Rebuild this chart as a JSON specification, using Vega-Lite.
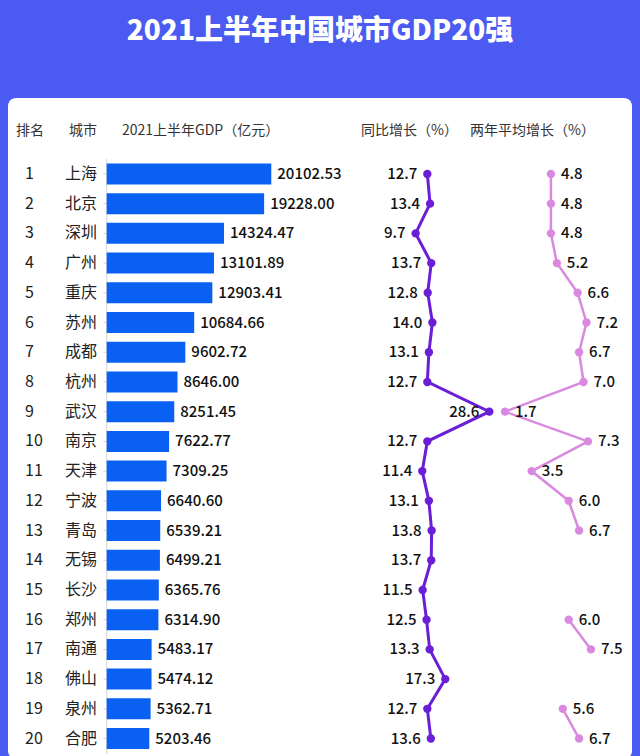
{
  "$schema": "https://vega.github.io/schema/vega-lite/v6.json",
  "width": 624,
  "height": 661,
  "autosize": "none",
  "padding": {"left": 8, "top": 98, "right": 8, "bottom": 0},
  "background": "#4b5af0",
  "view": {"fill": "white", "stroke": null, "cornerRadius": 8},
  "config": {"font": "Noto Sans CJK SC", "text": {"font": "Noto Sans CJK SC"}},
  "title": {
    "text": "2021上半年中国城市GDP20强",
    "color": "white",
    "fontSize": 28,
    "fontWeight": 900,
    "font": "Noto Sans CJK SC",
    "anchor": "middle",
    "frame": "group",
    "offset": 52
  },
  "data": {
    "values": [
      {"rank": 1, "city": "上海", "gdp": 20102.53, "yoy": 12.7, "avg2": 4.8},
      {"rank": 2, "city": "北京", "gdp": 19228.00, "yoy": 13.4, "avg2": 4.8},
      {"rank": 3, "city": "深圳", "gdp": 14324.47, "yoy": 9.7, "avg2": 4.8},
      {"rank": 4, "city": "广州", "gdp": 13101.89, "yoy": 13.7, "avg2": 5.2},
      {"rank": 5, "city": "重庆", "gdp": 12903.41, "yoy": 12.8, "avg2": 6.6},
      {"rank": 6, "city": "苏州", "gdp": 10684.66, "yoy": 14.0, "avg2": 7.2},
      {"rank": 7, "city": "成都", "gdp": 9602.72, "yoy": 13.1, "avg2": 6.7},
      {"rank": 8, "city": "杭州", "gdp": 8646.00, "yoy": 12.7, "avg2": 7.0},
      {"rank": 9, "city": "武汉", "gdp": 8251.45, "yoy": 28.6, "avg2": 1.7},
      {"rank": 10, "city": "南京", "gdp": 7622.77, "yoy": 12.7, "avg2": 7.3},
      {"rank": 11, "city": "天津", "gdp": 7309.25, "yoy": 11.4, "avg2": 3.5},
      {"rank": 12, "city": "宁波", "gdp": 6640.60, "yoy": 13.1, "avg2": 6.0},
      {"rank": 13, "city": "青岛", "gdp": 6539.21, "yoy": 13.8, "avg2": 6.7},
      {"rank": 14, "city": "无锡", "gdp": 6499.21, "yoy": 13.7, "avg2": null},
      {"rank": 15, "city": "长沙", "gdp": 6365.76, "yoy": 11.5, "avg2": null},
      {"rank": 16, "city": "郑州", "gdp": 6314.90, "yoy": 12.5, "avg2": 6.0},
      {"rank": 17, "city": "南通", "gdp": 5483.17, "yoy": 13.3, "avg2": 7.5},
      {"rank": 18, "city": "佛山", "gdp": 5474.12, "yoy": 17.3, "avg2": null},
      {"rank": 19, "city": "泉州", "gdp": 5362.71, "yoy": 12.7, "avg2": 5.6},
      {"rank": 20, "city": "合肥", "gdp": 5203.46, "yoy": 13.6, "avg2": 6.7}
    ]
  },
  "encoding": {
    "y": {"field": "rank", "type": "quantitative", "axis": null,
          "scale": {"domain": [-1.387, 20.52], "reverse": true, "nice": false, "zero": false}}
  },
  "resolve": {"scale": {"x": "independent"}},
  "layer": [
    {
      "encoding": {
        "x": {"field": "gdp", "type": "quantitative", "axis": null,
              "scale": {"domain": [-12054, 64155], "nice": false, "zero": false}}
      },
      "layer": [
        {
          "mark": {"type": "rule", "color": "#cfd3da", "strokeWidth": 1},
          "encoding": {"x": {"datum": -400}, "x2": {"datum": 0}}
        },
        {
          "transform": [{"filter": "datum.rank == 1"}],
          "mark": {"type": "rule", "color": "#cfd3da", "strokeWidth": 1},
          "encoding": {"x": {"datum": 0}, "y": {"datum": 0.5}, "y2": {"datum": 20.52}}
        },
        {
          "mark": {"type": "bar", "orient": "horizontal", "height": 21, "color": "#0a60f2"}
        },
        {
          "mark": {"type": "text", "align": "left", "baseline": "middle", "dx": 6, "fontSize": 15, "fontWeight": 500, "color": "#111111"},
          "encoding": {"text": {"field": "gdp", "type": "quantitative", "format": ".2f"}}
        },
        {
          "mark": {"type": "text", "align": "right", "baseline": "middle", "fontSize": 16, "color": "#222222"},
          "encoding": {"x": {"datum": -1185}, "text": {"field": "city"}}
        },
        {
          "mark": {"type": "text", "align": "left", "baseline": "middle", "fontSize": 16, "color": "#222222"},
          "encoding": {"x": {"datum": -9978}, "text": {"field": "rank", "type": "quantitative"}}
        },
        {
          "transform": [{"filter": "datum.rank == 1"}],
          "mark": {"type": "text", "text": "排名", "align": "left", "baseline": "middle", "fontSize": 14, "color": "#333333"},
          "encoding": {"x": {"datum": -11077}, "y": {"datum": -0.459}}
        },
        {
          "transform": [{"filter": "datum.rank == 1"}],
          "mark": {"type": "text", "text": "城市", "align": "left", "baseline": "middle", "fontSize": 14, "color": "#333333"},
          "encoding": {"x": {"datum": -4604}, "y": {"datum": -0.459}}
        },
        {
          "transform": [{"filter": "datum.rank == 1"}],
          "mark": {"type": "text", "text": "2021上半年GDP（亿元）", "align": "left", "baseline": "middle", "fontSize": 14, "color": "#333333"},
          "encoding": {"x": {"datum": 1869}, "y": {"datum": -0.459}}
        }
      ]
    },
    {
      "encoding": {
        "x": {"field": "yoy", "type": "quantitative", "axis": null,
              "scale": {"domain": [-94.82, 65.18], "nice": false, "zero": false}}
      },
      "layer": [
        {
          "mark": {"type": "line", "color": "#6a1ed6", "strokeWidth": 3,
                   "point": {"filled": true, "size": 70, "color": "#6a1ed6"}},
          "encoding": {"order": {"field": "rank", "type": "quantitative"}}
        },
        {
          "mark": {"type": "text", "align": "right", "baseline": "middle", "dx": -10, "fontSize": 15, "fontWeight": 500, "color": "#111111"},
          "encoding": {"text": {"field": "yoy", "type": "quantitative", "format": ".1f"}}
        },
        {
          "transform": [{"filter": "datum.rank == 1"}],
          "mark": {"type": "text", "text": "同比增长（%）", "align": "center", "baseline": "middle", "fontSize": 14, "color": "#333333"},
          "encoding": {"x": {"datum": 8.13}, "y": {"datum": -0.459}}
        }
      ]
    },
    {
      "encoding": {
        "x": {"field": "avg2", "type": "quantitative", "axis": null,
              "scale": {"domain": [-31.83, 10.27], "nice": false, "zero": false}}
      },
      "layer": [
        {
          "mark": {"type": "line", "color": "#d98ae0", "strokeWidth": 2.5, "invalid": "break-paths-filter-domains",
                   "point": {"filled": true, "size": 70, "color": "#d98ae0"}},
          "encoding": {"order": {"field": "rank", "type": "quantitative"}}
        },
        {
          "transform": [{"filter": "datum.avg2 != null"}],
          "mark": {"type": "text", "align": "left", "baseline": "middle", "dx": 10, "fontSize": 15, "fontWeight": 500, "color": "#111111"},
          "encoding": {"text": {"field": "avg2", "type": "quantitative", "format": ".1f"}}
        },
        {
          "transform": [{"filter": "datum.rank == 1"}],
          "mark": {"type": "text", "text": "两年平均增长（%）", "align": "center", "baseline": "middle", "fontSize": 14, "color": "#333333"},
          "encoding": {"x": {"datum": 3.556}, "y": {"datum": -0.459}}
        }
      ]
    }
  ]
}
